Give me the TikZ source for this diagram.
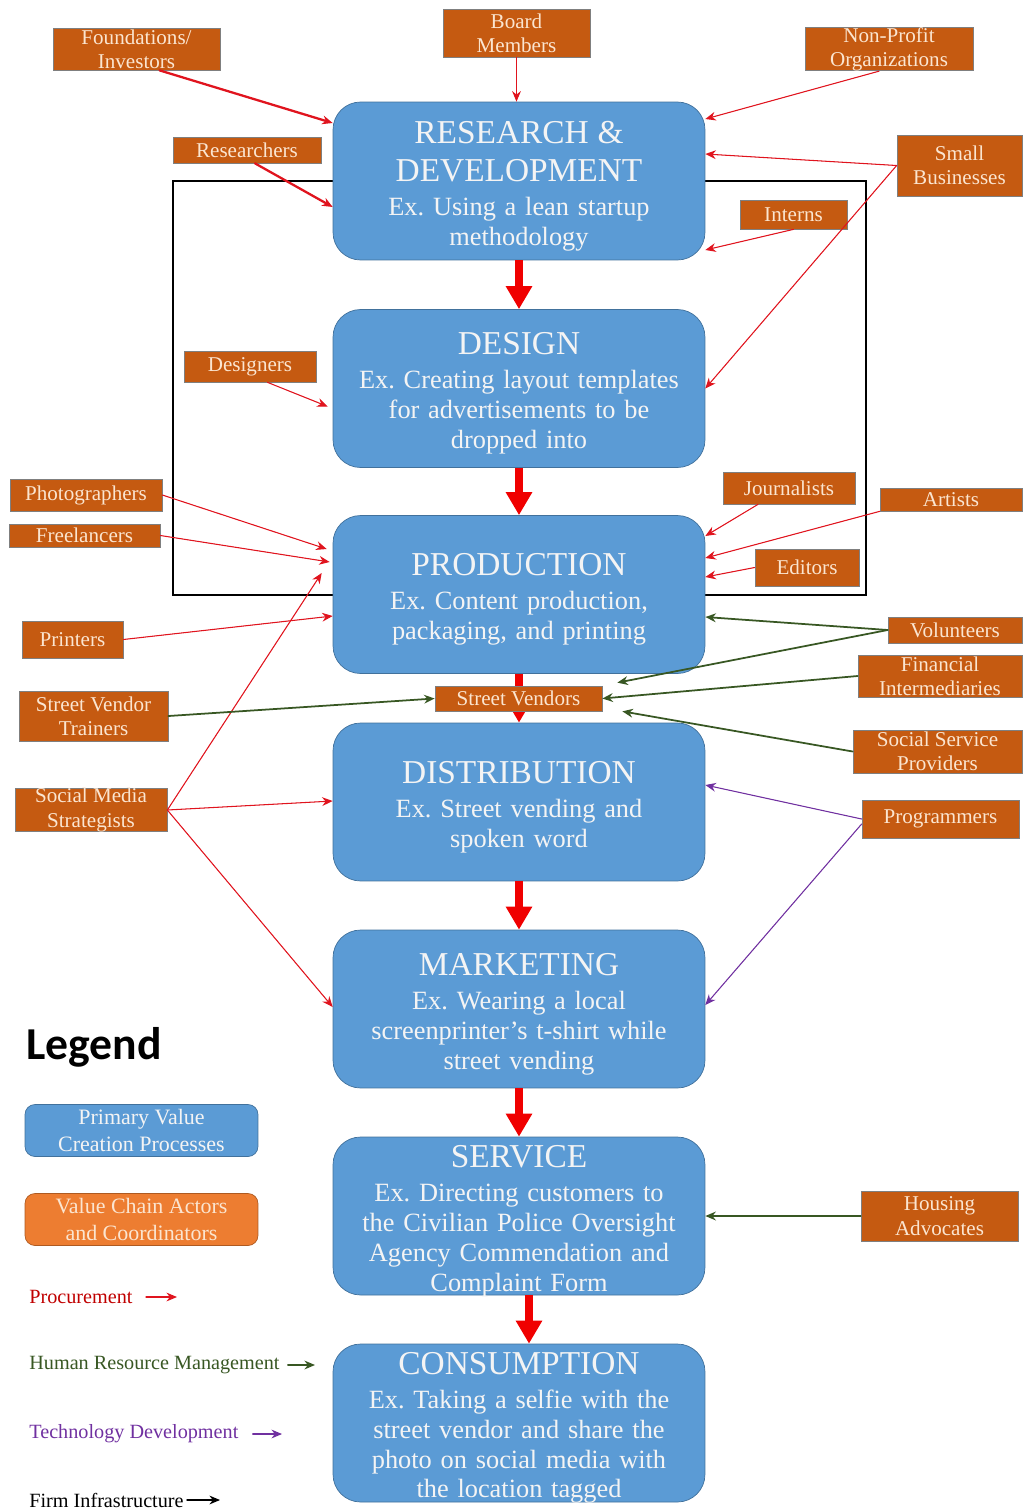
\documentclass[tikz,border=0pt]{standalone}
\usepackage{fontspec}
\setmainfont{Liberation Serif}
\newfontfamily\legendfont{Carlito}
\usepackage{tikz}
\usetikzlibrary{arrows.meta}
\frenchspacing
\definecolor{stageblue}{HTML}{5B9BD5}
\definecolor{stageedge}{HTML}{41719C}
\definecolor{stagetext}{HTML}{F4F4F4}
\definecolor{actorfill}{HTML}{C55A11}
\definecolor{actoredge}{HTML}{7F7F7F}
\definecolor{actortext}{HTML}{FBE5D0}
\definecolor{keyorange}{HTML}{ED7D31}
\definecolor{keyorangeedge}{HTML}{AE5A21}
\definecolor{flowred}{HTML}{F00000}
\definecolor{procred}{HTML}{E0141E}
\definecolor{proctext}{HTML}{C00000}
\definecolor{hrgreen}{HTML}{385723}
\definecolor{techpurple}{HTML}{7030A0}
\tikzset{>={Stealth[length=6pt,width=5pt]},
  stage/.style={draw=stageedge, fill=stageblue, rounded corners=0.55cm,
    text=stagetext, minimum width=7.44cm, minimum height=3.16cm,
    text width=7cm, inner sep=0pt, align=center,
    font=\fontsize{15}{17}\selectfont,
    execute at end node={\par\vspace{-5.7pt}}},
  actor/.style 2 args={draw=actoredge, fill=actorfill, text=actortext,
    minimum width=#1*0.02cm, minimum height=#2*0.02cm, inner sep=0pt,
    align=center, font=\fontsize{12}{13.8}\selectfont},
  keybox/.style={minimum width=4.66cm, minimum height=1.04cm,
    rounded corners=0.2cm, inner sep=0pt, align=center,
    font=\fontsize{12.5}{15}\selectfont},
  keytext/.style={anchor=west, inner sep=0pt, font=\fontsize{11.5}{13}\selectfont},
  flow/.style={-{Triangle[length=0.46cm,width=0.5cm]}, draw=flowred,
    fill=flowred, line width=0.16cm, line cap=butt},
  procure/.style={->, draw=procred, fill=procred, line width=0.6pt},
  hrm/.style={->, draw=hrgreen, fill=hrgreen, line width=1pt},
  techdev/.style={->, draw=techpurple, fill=techpurple, line width=0.6pt},
  frame/.style={draw=black, line width=1.1pt}}
\newcommand\stagetitle[1]{{\fontsize{19}{22}\selectfont #1\par}\vspace{2.3pt}}

\begin{document}
\begin{tikzpicture}[x=0.02cm,y=-0.02cm,line cap=round]
  \useasboundingbox (0,0) rectangle (1022,1512);

  % box round research, design and production
  \draw[frame] (173,181) rectangle (866,595);

  % primary value creation processes
  \node[stage] (rd) at (519,181) {\stagetitle{RESEARCH \&\\DEVELOPMENT}Ex. Using a lean startup\\methodology};
  \node[stage] (design) at (519,388.5) {\stagetitle{DESIGN}Ex. Creating layout templates\\for advertisements to be\\dropped into};
  \node[stage] (prod) at (519,594.5) {\stagetitle{PRODUCTION}Ex. Content production,\\packaging, and printing};
  \node[stage] (dist) at (519,802) {\stagetitle{DISTRIBUTION}Ex. Street vending and\\spoken word};
  \node[stage] (market) at (519,1009) {\stagetitle{MARKETING}Ex. Wearing a local\\screenprinter’s t-shirt while\\street vending};
  \node[stage] (serv) at (519,1216) {\stagetitle{SERVICE}Ex. Directing customers to\\the Civilian Police Oversight\\Agency Commendation and\\Complaint Form};
  \node[stage] (cons) at (519,1423) {\stagetitle{CONSUMPTION}Ex. Taking a selfie with the\\street vendor and share the\\photo on social media with\\the location tagged};

  \draw[flow] (rd) -- (design);
  \draw[flow] (design) -- (prod);
  \draw[flow] (prod) -- (dist);
  \draw[flow] (dist) -- (market);
  \draw[flow] (market) -- (serv);
  \draw[flow] ([xshift=0.2cm]serv.south) -- ([xshift=0.2cm]cons.north);

  % value chain actors
  \node[actor={167}{42}] (found) at (136.5,49) {Foundations/\\Investors};
  \node[actor={147}{48}] (board) at (516.5,33) {Board\\Members};
  \node[actor={168}{42}] (nonprofit) at (889,49) {Non-Profit\\Organizations};
  \node[actor={148}{26}] (research) at (247,150) {Researchers};
  \node[actor={125}{61}] (smallbiz) at (959.5,165.5) {Small\\Businesses};
  \node[actor={107}{29}] (interns) at (793.5,214.5) {Interns};
  \node[actor={132}{31}] (designers) at (250,366.5) {Designers};
  \node[actor={152}{32}] (photo) at (86,495) {Photographers};
  \node[actor={151}{23}] (freel) at (84.5,535.5) {Freelancers};
  \node[actor={132}{32}] (journ) at (789,488) {Journalists};
  \node[actor={142}{23}] (artists) at (951,499.5) {Artists};
  \node[actor={104}{37}] (editors) at (807,567.5) {Editors};
  \node[actor={101}{37}] (printers) at (72.5,639.5) {Printers};
  \node[actor={134}{26}] (volunteers) at (955,630) {Volunteers};
  \node[actor={164}{42}] (financial) at (940,676) {Financial\\Intermediaries};
  \node[actor={167}{25}] (vendors) at (518.5,698.5) {Street Vendors};
  \node[actor={149}{50}] (trainers) at (93.5,716) {Street Vendor\\Trainers};
  \node[actor={169}{43}] (socserv) at (937.5,751.5) {Social Service\\Providers};
  \node[actor={152}{40}] (socmedia) at (91,810) {Social Media\\Strategists};
  \node[actor={157}{38}] (program) at (940.5,819) {Programmers};
  \node[actor={157}{50}] (housing) at (939.5,1216) {Housing\\Advocates};

  % procurement
  \draw[procure, line width=1.3pt] ([xshift=0.46cm]found.south) -- ([yshift=1.16cm]rd.west);
  \draw[procure] (board.south) -- (board.south |- rd.north);
  \draw[procure] ([xshift=-0.2cm]nonprofit.south) -- ([yshift=1.24cm]rd.east);
  \draw[procure, line width=1.3pt] ([xshift=0.16cm]research.south) -- ([yshift=-0.52cm]rd.west);
  \draw[procure] (smallbiz.west) -- ([yshift=0.54cm]rd.east);
  \draw[procure] (smallbiz.west) -- (design.east);
  \draw[procure] (interns.south) -- ([yshift=-1.38cm]rd.east);
  \draw[procure] ([xshift=0.35cm]designers.south) -- ([xshift=-0.1cm,yshift=-0.36cm]design.west);
  \draw[procure] (photo.east) -- ([xshift=-0.12cm,yshift=0.91cm]prod.west);
  \draw[procure] (freel.east) -- ([xshift=-0.06cm,yshift=0.65cm]prod.west);
  \draw[procure] (printers.east) -- ([yshift=-0.43cm]prod.west);
  \draw[procure] (socmedia.east) -- ([xshift=-0.22cm,yshift=0.43cm]prod.west);
  \draw[procure] (socmedia.east) -- ([yshift=0.02cm]dist.west);
  \draw[procure] (socmedia.east) -- ([yshift=0.04cm]market.west);
  \draw[procure] ([xshift=-0.62cm]journ.south) -- ([yshift=1.17cm]prod.east);
  \draw[procure] (artists.south west) -- ([yshift=0.73cm]prod.east);
  \draw[procure] (editors.west) -- ([yshift=0.35cm]prod.east);

  % human resource management
  \draw[hrm] (volunteers.west) -- ([yshift=-0.45cm]prod.east);
  \draw[hrm] (volunteers.west) -- ([xshift=0.3cm,yshift=0.06cm]vendors.north east);
  \draw[hrm] (financial.west) -- (vendors.east);
  \draw[hrm] (socserv.west) -- ([xshift=0.4cm]vendors.south east);
  \draw[hrm] (trainers.east) -- (vendors.west);
  \draw[hrm] (housing.west) -- (serv.east);

  % technology development
  \draw[techdev] (program.west) -- ([yshift=0.34cm]dist.east);
  \draw[techdev] ([yshift=-0.1cm]program.west) -- ([yshift=0.08cm]market.east);

  % legend
  \node[anchor=west, inner sep=0pt, font=\legendfont\bfseries\fontsize{26}{30}\selectfont] (legend) at (26,1047) {Legend};
  \node[keybox, fill=stageblue, draw=stageedge, text=stagetext] (keyprimary) at (141.5,1130.5) {Primary Value\\Creation Processes};
  \node[keybox, fill=keyorange, draw=keyorangeedge, text=actortext] (keyactor) at (141.5,1219.5) {Value Chain Actors\\and Coordinators};

  \node[keytext, text=proctext] (kproc) at (29,1297) {Procurement};
  \coordinate (kprocend) at (177,1297);
  \draw[procure] ([xshift=0.26cm]kproc.east) -- (kprocend);
  \node[keytext, text=hrgreen] (khrm) at (29,1365) {Human Resource Management};
  \coordinate (khrmend) at (315,1365);
  \draw[hrm] ([xshift=0.16cm]khrm.east) -- (khrmend);
  \node[keytext, text=techpurple] (ktech) at (29,1434) {Technology Development};
  \coordinate (ktechend) at (282,1434);
  \draw[techdev] ([xshift=0.28cm]ktech.east) -- (ktechend);
  \node[keytext] (kfirm) at (29,1500) {Firm Infrastructure};
  \coordinate (kfirmend) at (220,1500);
  \draw[->, line width=0.8pt] ([xshift=0.06cm]kfirm.east) -- (kfirmend);
\end{tikzpicture}
\end{document}
